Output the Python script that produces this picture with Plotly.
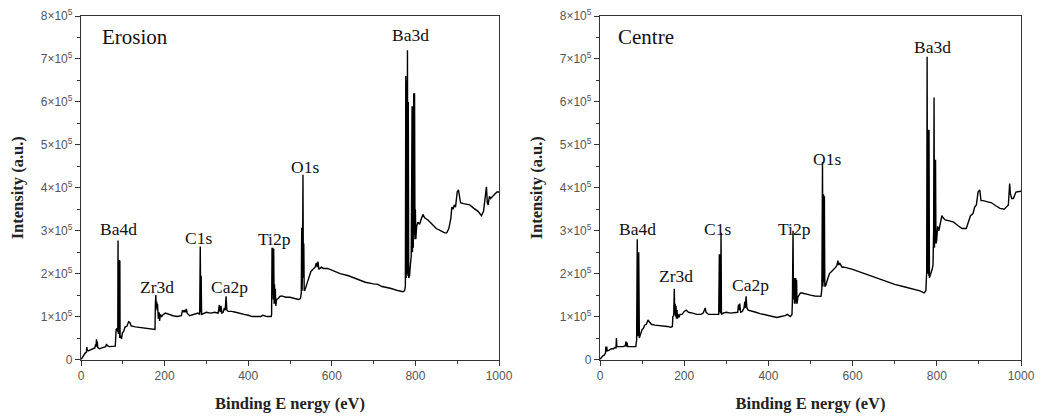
import plotly.graph_objects as go

# ---------------- data (intensity in units of 1e5 counts) ----------------
erosion_be = [0, 3, 6, 10, 13, 14, 15, 17, 22, 27, 33, 35, 36, 37, 38, 39, 40, 45, 50, 55, 59, 61, 63, 68, 75, 82, 84, 86, 88,
              88.6, 89.2, 91.5, 92, 92.5, 93, 93.5, 95, 97, 99, 102, 105, 110, 114, 117, 120, 130, 145, 160, 172, 177,
              178, 179, 180, 181, 182, 183, 185, 187, 188, 190, 193, 197, 202, 210, 220, 230, 240, 243, 246, 248, 250,
              252, 254, 260, 270, 280, 284, 285.3, 286.5, 287.5, 288.5, 292, 300, 310, 320, 328, 331, 333, 335, 337,
              340, 343, 345, 347, 349, 352, 360, 370, 380, 390, 400, 410, 420, 430, 435, 440, 445, 455, 456, 457, 458,
              459, 460, 461, 462, 463, 464, 465, 466, 468, 472, 476, 480, 485, 490, 500, 510, 520, 525, 527, 528, 529,
              530, 531, 532, 533, 534, 536, 540, 545, 550, 555, 560, 563, 565, 567, 569, 575, 580, 590, 600, 620, 640,
              660, 680, 700, 710, 720, 740, 760, 770, 774, 776, 777, 778, 779, 780, 781, 782, 783, 784, 786, 788, 790,
              791, 792, 793, 794, 795, 796, 797, 798, 799, 800, 801, 803, 806, 810, 815, 818, 822, 830, 840, 850, 860,
              870, 875, 880, 885, 887, 890, 893, 896, 900, 903, 906, 908, 915, 930, 940, 950, 958, 963, 966, 968, 970,
              972, 974, 977, 980, 985, 990, 995, 1000]
erosion_int = [0.0, 0.05, 0.1, 0.15, 0.17, 0.29, 0.22, 0.2, 0.22, 0.25, 0.27, 0.35, 0.3, 0.47, 0.3, 0.42, 0.28, 0.25, 0.27,
               0.28, 0.3, 0.36, 0.32, 0.3, 0.3, 0.31, 0.7, 0.72, 0.65,
               2.77, 0.6, 0.7, 2.32, 0.5, 2.3, 0.5, 0.55, 0.48, 0.62, 0.65, 0.75, 0.78, 0.88, 0.86, 0.78, 0.76, 0.74,
               0.73, 0.7, 0.7,
               1.3, 1.5, 1.2, 1.35, 1.15, 1.3, 0.95, 1.1, 0.9, 1.05, 1.0, 1.05, 1.08, 1.05, 1.02, 1.0, 1.02, 1.15, 1.1,
               1.15, 1.1,
               1.18, 1.08, 1.02, 1.05, 1.08, 1.05, 2.63, 1.1, 1.95, 1.05, 1.07, 1.1, 1.08, 1.1, 1.08, 1.27, 1.1, 1.25,
               1.08,
               1.1, 1.2, 1.15, 1.47, 1.15, 1.12, 1.12, 1.1, 1.07, 1.05, 1.03, 1.0, 1.0, 1.0, 1.03, 1.02, 1.0, 1.0, 1.05,
               2.6, 1.5,
               2.6, 1.4, 2.58, 1.3, 1.75, 1.3, 1.65, 1.25, 1.4, 1.42, 1.47, 1.48, 1.47, 1.45, 1.45, 1.42, 1.4, 1.42,
               1.55, 3.07, 1.6,
               2.2, 4.3, 1.9, 2.7, 1.6, 1.62, 1.75, 1.9, 2.05, 2.1, 2.15, 2.25, 2.15, 2.28, 2.1, 2.15, 2.12, 2.12, 2.08,
               2.0, 1.95,
               1.87, 1.8, 1.76, 1.75, 1.7, 1.66, 1.6, 1.58, 1.6, 1.7, 6.6, 1.9, 6.5, 2.0, 7.2, 1.95, 6.0, 1.9, 1.95,
               2.2, 2.4,
               4.0, 5.9, 2.5, 5.9, 2.6, 6.2, 2.9, 6.2, 2.8, 3.5, 2.8, 3.1, 3.2, 3.15, 3.3, 3.38, 3.3, 3.25, 3.15, 3.05,
               3.0,
               2.95, 2.95, 3.05, 3.3, 3.55, 3.5, 3.6, 3.55, 3.9, 3.95, 3.7, 3.65, 3.63, 3.6, 3.52, 3.45, 3.35, 3.45,
               3.7, 3.9, 4.02,
               3.65, 3.6, 3.8, 3.75, 3.8, 3.85, 3.9, 3.9]

centre_be = [0, 3, 6, 10, 13, 14, 15, 16, 17, 22, 27, 32, 35, 38, 39, 40, 45, 50, 55, 60, 62, 63, 64, 66, 75, 85, 87,
             88.5, 89.5, 91.5, 92, 92.5, 93, 93.5, 95, 97, 100, 103, 106, 110, 114, 117, 122, 130, 145, 160, 168, 172,
             173, 175, 176.5, 177.5, 178.5, 179.5, 180.5, 181.5, 183, 184, 186, 188, 190, 195, 200, 205, 210, 220,
             230, 240, 245, 250, 252, 258, 265, 275, 282, 283.5, 284.5, 285.5, 286.5, 287.5, 288.5, 292, 300, 310,
             320, 327, 329, 330, 332, 334, 338, 342, 344, 345, 347, 349, 352, 360, 370, 380, 390, 400, 410, 420, 430,
             440, 445, 448, 452, 456, 457, 458.5, 459.5, 461, 462, 463, 464, 465, 466, 467, 468, 470, 473, 476, 480,
             490, 500, 510, 520, 525, 527, 528.5, 529.5, 531, 532, 533, 534, 536, 540, 545, 550, 556, 560, 563, 565,
             567, 569, 575, 580, 600, 620, 640, 660, 680, 700, 720, 740, 760, 770, 774, 776, 777, 778, 780, 781,
             781.5, 782.5, 784, 786, 789, 791, 792.5, 793.5, 794.5, 797, 798, 798.5, 799.5, 802, 805, 808, 812, 815,
             820, 830, 840, 850, 860, 870, 875, 880, 886, 890, 894, 898, 902, 905, 910, 920, 930, 940, 950, 960, 970,
             973, 975, 978, 982, 988, 1000]
centre_int = [0.0, 0.05, 0.08, 0.1, 0.15, 0.3, 0.2, 0.3, 0.2, 0.22, 0.25, 0.25, 0.28, 0.27, 0.5, 0.3, 0.3, 0.3, 0.3,
              0.32, 0.42, 0.3, 0.4, 0.3, 0.3, 0.3, 0.45,
              2.8, 0.55, 0.6, 2.5, 0.55, 2.45, 0.5, 0.55, 0.6, 0.7, 0.72, 0.8, 0.82, 0.92, 0.88, 0.82, 0.8, 0.79,
              0.77, 0.75, 0.77,
              1.0, 1.02, 1.65, 1.05, 1.3, 1.0, 1.25, 0.95, 1.15, 0.95, 1.05, 0.98, 1.05, 1.05, 1.12, 1.15, 1.1, 1.08,
              1.05, 1.05, 1.08, 1.2, 1.1, 1.05, 1.05, 1.05, 1.05, 2.45, 1.1, 2.45, 1.08, 2.95, 1.05, 1.08, 1.1, 1.08,
              1.1, 1.1, 1.28, 1.15, 1.3, 1.1, 1.12, 1.2, 1.35, 1.2, 1.47, 1.2, 1.15, 1.12, 1.1, 1.07, 1.05, 1.03,
              1.0, 0.98, 1.0,
              1.02, 1.05, 1.02, 1.0, 1.05, 1.35, 3.0, 1.4, 1.9, 1.3, 1.9, 1.35, 1.9, 1.3, 1.85, 1.3, 1.45, 1.5, 1.55,
              1.55,
              1.52, 1.5, 1.48, 1.47, 1.47, 1.65, 4.6, 1.7, 3.85, 1.8, 3.8, 1.7, 1.72, 1.85, 2.0, 2.05, 2.1, 2.15,
              2.2, 2.3,
              2.2, 2.25, 2.15, 2.15, 2.1, 2.03, 1.95, 1.88, 1.82, 1.75, 1.7, 1.65, 1.6, 1.55, 1.6, 2.05, 7.05, 2.0,
              5.35, 1.95,
              5.35, 1.9, 1.95, 2.0, 2.1, 2.2, 3.0, 6.1, 2.6, 4.65, 2.7, 4.65, 2.75, 3.1, 3.0, 3.15, 3.35, 3.3,
              3.25, 3.23, 3.2, 3.12, 3.05, 3.05, 3.2, 3.35, 3.4, 3.55, 3.6, 3.9, 3.95, 3.7, 3.7, 3.68, 3.65, 3.58,
              3.52, 3.5, 3.6,
              4.1, 3.85, 3.75, 3.75, 3.9, 3.92]

panel_labels = ["Erosion", "Centre"]
peak_names = ["Ba4d", "Zr3d", "C1s", "Ca2p", "Ti2p", "O1s", "Ba3d"]
erosion_label_x = [89, 181, 282, 355, 464, 536, 789]
erosion_label_y = [3.05, 1.7, 2.83, 1.7, 2.81, 4.48, 7.56]
centre_label_x = [89, 181, 280, 357, 463, 538, 790]
centre_label_y = [3.05, 1.94, 3.05, 1.74, 3.05, 4.68, 7.28]

y_tickvals = [0, 1, 2, 3, 4, 5, 6, 7, 8]
y_ticktext = ["0"] + [f"{v}×10<sup>5</sup>" for v in range(1, 9)]
x_tickvals = [0, 200, 400, 600, 800, 1000]

# ---------------- figure ----------------
W, H = 1049, 418
fig = go.Figure()
fig.add_trace(go.Scatter(x=erosion_be, y=erosion_int, mode="lines",
                         line=dict(color="black", width=1.4), xaxis="x", yaxis="y", showlegend=False))
fig.add_trace(go.Scatter(x=centre_be, y=centre_int, mode="lines",
                         line=dict(color="black", width=1.4), xaxis="x2", yaxis="y2", showlegend=False))

serif = "Liberation Serif, Times New Roman, serif"
sans = "Liberation Sans, Arial, sans-serif"

def xax(domain, anchor):
    return dict(domain=domain, anchor=anchor, range=[0, 1000], tickvals=x_tickvals,
                ticks="outside", ticklen=5, tickwidth=1.2, tickcolor="#333",
                minor=dict(dtick=100, tick0=0, ticks="outside", ticklen=3, tickcolor="#333", tickwidth=1),
                showline=True, linecolor="#333", linewidth=1.3, mirror=True,
                showgrid=False, zeroline=False,
                tickfont=dict(family=sans, size=12, color="#555"),
                title=dict(text="<b>Binding E nergy (eV)</b>", font=dict(family=serif, size=16.5, color="#222"),
                           standoff=15),
                automargin=False)

def yax(domain, anchor):
    return dict(domain=domain, anchor=anchor, range=[0, 8], tickvals=y_tickvals, ticktext=y_ticktext,
                ticks="outside", ticklen=5, tickwidth=1.2, tickcolor="#333",
                minor=dict(dtick=0.5, tick0=0, ticks="outside", ticklen=3, tickcolor="#333", tickwidth=1),
                showline=True, linecolor="#333", linewidth=1.3, mirror=True,
                showgrid=False, zeroline=False,
                tickfont=dict(family=sans, size=12, color="#555"),
                ticklabeloverflow="allow",
                title=dict(text="<b>Intensity (a.u.)</b>", font=dict(family=serif, size=16.5, color="#222"),
                           standoff=12),
                automargin=False)

ydom = [1 - 359.5 / H, 1 - 16 / H]
fig.update_layout(
    width=W, height=H,
    margin=dict(l=0, r=0, t=0, b=0),
    paper_bgcolor="white", plot_bgcolor="white",
    xaxis=xax([81 / W, 499 / W], "y"),
    yaxis=yax(ydom, "x"),
    xaxis2=xax([600 / W, 1021 / W], "y2"),
    yaxis2=yax(ydom, "x2"),
)

annotations = []
for i, (lab, ref) in enumerate(zip(panel_labels, [("x", "y"), ("x2", "y2")])):
    annotations.append(dict(text=lab, x=45 if i == 0 else 39, y=7.52, xref=ref[0], yref=ref[1],
                            xanchor="left", yanchor="middle", showarrow=False,
                            font=dict(family=serif, size=21, color="#111")))
for name, lx, ly in zip(peak_names, erosion_label_x, erosion_label_y):
    annotations.append(dict(text=name, x=lx, y=ly, xref="x", yref="y", showarrow=False,
                            xanchor="center", yanchor="middle", font=dict(family=serif, size=17.5, color="#111")))
for name, lx, ly in zip(peak_names, centre_label_x, centre_label_y):
    annotations.append(dict(text=name, x=lx, y=ly, xref="x2", yref="y2", showarrow=False,
                            xanchor="center", yanchor="middle", font=dict(family=serif, size=17.5, color="#111")))
fig.update_layout(annotations=annotations)

fig.write_html("out.html", config={"displayModeBar": False},
               post_script="document.body.style.margin='0px';")
